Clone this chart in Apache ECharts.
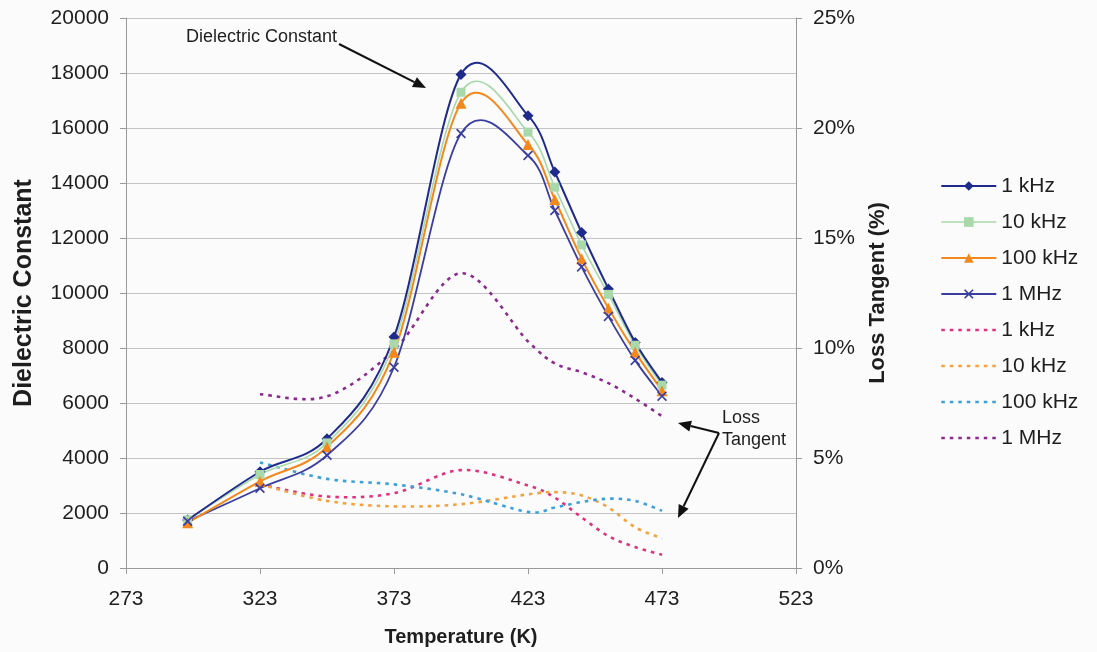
<!DOCTYPE html>
<html>
<head>
<meta charset="utf-8">
<script src="https://cdn.jsdelivr.net/npm/echarts@6/dist/echarts.min.js"></script>
<style>
  html, body { margin: 0; padding: 0; background: #fbfbfb; }
  #chart { width: 1097px; height: 652px; }
</style>
</head>
<body>
<div id="chart"></div>
<script>
// Temperatures (K) at which the samples were measured
const temps = [296, 323, 348, 373, 398, 423, 433, 443, 453, 463, 473];
const lossTemps = temps.slice(1);

// Dielectric constant per frequency
const dc1k   = [1750, 3500, 4700, 8400, 17950, 16450, 14400, 12200, 10150, 8200, 6750];
const dc10k  = [1750, 3400, 4550, 8150, 17300, 15850, 13850, 11750, 9950, 8100, 6650];
const dc100k = [1650, 3150, 4400, 7850, 16900, 15400, 13400, 11250, 9450, 7850, 6450];
const dc1M   = [1700, 2900, 4100, 7300, 15800, 15000, 13000, 10950, 9150, 7550, 6250];

// Loss tangent (%) per frequency
const lt1k   = [3.8, 3.25, 3.4, 4.45, 3.75, 3.2, 2.3, 1.45, 0.95, 0.6];
const lt10k  = [3.8, 3.05, 2.8, 2.9, 3.35, 3.45, 3.3, 2.75, 1.85, 1.35];
const lt100k = [4.8, 4.05, 3.8, 3.35, 2.55, 2.75, 3.0, 3.15, 3.05, 2.6];
const lt1M   = [7.9, 7.8, 9.9, 13.4, 10.3, 9.3, 8.9, 8.4, 7.7, 6.9];

const freqNames = ['1 kHz', '10 kHz', '100 kHz', '1 MHz'];

const FONT = 'Liberation Sans, Arial, sans-serif';
const TEXT = '#1e1e1e';
const AXIS = '#9a9a9a';
const DOTS = [3.5, 5];

const C = {
  dc1k: '#1f2b8c', dc10k: '#a9d9ab', dc100k: '#f3891d', dc1M: '#3a3ea0',
  lt1k: '#e2317c', lt10k: '#f5a13d', lt100k: '#3d9fd9', lt1M: '#8b2a8d'
};

const pairs = (xs, ys) => ys.map((v, i) => [xs[i], v]);

const crossPath = 'path://M0,1.2 L1.2,0 L5,3.8 L8.8,0 L10,1.2 L6.2,5 L10,8.8 L8.8,10 L5,6.2 L1.2,10 L0,8.8 L3.8,5 Z';

// Smooth curve through the measured points (Catmull-Rom as cubic Beziers),
// positioned through the chart's own axes.
function curve(xs, values, color, width, dash, yAxisIndex, z) {
  return {
    type: 'custom', xAxisIndex: 0, yAxisIndex: yAxisIndex, z: z,
    silent: true, clip: true,
    data: pairs(xs, values),
    encode: { x: 0, y: 1 },
    renderItem: function (params, api) {
      if (params.dataIndex !== 0) return null;
      const p = xs.map((x, i) => api.coord([x, values[i]]));
      const n = p.length;
      let d = 'M' + p[0][0] + ',' + p[0][1];
      for (let i = 0; i < n - 1; i++) {
        const p0 = p[Math.max(i - 1, 0)], p1 = p[i], p2 = p[i + 1], p3 = p[Math.min(i + 2, n - 1)];
        const c1x = p1[0] + (p2[0] - p0[0]) / 6, c1y = p1[1] + (p2[1] - p0[1]) / 6;
        const c2x = p2[0] - (p3[0] - p1[0]) / 6, c2y = p2[1] - (p3[1] - p1[1]) / 6;
        d += ' C' + c1x + ',' + c1y + ' ' + c2x + ',' + c2y + ' ' + p2[0] + ',' + p2[1];
      }
      return {
        type: 'path', shape: { pathData: d },
        style: { fill: 'none', stroke: color, lineWidth: width, lineDash: dash, lineCap: 'butt' }
      };
    }
  };
}

// Point markers (and legend entry) for a dielectric-constant series
function dcMarkers(name, values, color, symbol, size) {
  return {
    name: name, type: 'line', yAxisIndex: 0,
    data: pairs(temps, values),
    symbol: symbol, symbolSize: size,
    lineStyle: { width: 0 },
    itemStyle: { color: color },
    z: 5
  };
}

// Legend entry holder for a loss-tangent series
function lossHolder(name, values, color) {
  return {
    name: name + ' ', type: 'line', yAxisIndex: 1,
    data: pairs(lossTemps, values),
    symbol: 'none',
    lineStyle: { width: 0, type: DOTS },
    itemStyle: { color: color },
    z: 1
  };
}

// Arrow made of a shaft and a filled head, in pixel space
function arrow(x1, y1, x2, y2) {
  const ang = Math.atan2(y2 - y1, x2 - x1);
  const len = 13, half = 5.5;
  const bx = x2 - len * Math.cos(ang), by = y2 - len * Math.sin(ang);
  const px = -Math.sin(ang) * half, py = Math.cos(ang) * half;
  return [
    { type: 'line', shape: { x1: x1, y1: y1, x2: bx, y2: by },
      style: { stroke: '#111', lineWidth: 2 }, z: 10 },
    { type: 'polygon', shape: { points: [[x2, y2], [bx + px, by + py], [bx - px, by - py]] },
      style: { fill: '#111' }, z: 10 }
  ];
}

const dcLegend = (name, color, w) => ({ name: name, lineStyle: { color: color, width: w, type: 'solid', opacity: 1 } });
const ltLegend = (name, color) => ({ name: name + ' ', lineStyle: { color: color, width: 2.6, type: DOTS, opacity: 1 }, itemStyle: { opacity: 0 } });

const chart = echarts.init(document.getElementById('chart'), null, { renderer: 'canvas' });

const option = {
  animation: false,
  backgroundColor: '#fbfbfb',
  textStyle: { fontFamily: FONT },
  grid: { left: 126, right: 301, top: 18, bottom: 83, containLabel: false },
  xAxis: {
    type: 'value', min: 273, max: 523, interval: 50,
    name: 'Temperature (K)', nameLocation: 'middle', nameGap: 59,
    nameTextStyle: { fontFamily: FONT, fontSize: 20, fontWeight: 'bold', color: TEXT },
    axisLine: { show: true, lineStyle: { color: AXIS, width: 1 } },
    axisTick: { show: true, inside: false, length: 6, lineStyle: { color: AXIS } },
    axisLabel: { fontFamily: FONT, fontSize: 21, color: TEXT, margin: 21 },
    splitLine: { show: false }
  },
  yAxis: [
    {
      type: 'value', min: 0, max: 20000, interval: 2000, position: 'left',
      name: 'Dielectric Constant', nameLocation: 'middle', nameGap: 89,
      nameTextStyle: { fontFamily: FONT, fontSize: 25, fontWeight: 'bold', color: TEXT },
      axisLine: { show: true, lineStyle: { color: AXIS, width: 1 } },
      axisTick: { show: true, inside: false, length: 6, lineStyle: { color: AXIS } },
      axisLabel: { fontFamily: FONT, fontSize: 21, color: TEXT, margin: 17, formatter: (v) => String(v) },
      splitLine: { show: true, lineStyle: { color: '#c4c4c4', width: 1 } }
    },
    {
      type: 'value', min: 0, max: 25, interval: 5, position: 'right',
      name: 'Loss Tangent (%)', nameLocation: 'middle', nameGap: 71, nameRotate: 90,
      nameTextStyle: { fontFamily: FONT, fontSize: 22, fontWeight: 'bold', color: TEXT },
      axisLine: { show: true, lineStyle: { color: AXIS, width: 1 } },
      axisTick: { show: true, inside: false, length: 6, lineStyle: { color: AXIS } },
      axisLabel: { fontFamily: FONT, fontSize: 21, color: TEXT, margin: 17, formatter: '{value}%' },
      splitLine: { show: false }
    }
  ],
  legend: {
    orient: 'vertical', left: 935, top: 170,
    itemWidth: 55, itemHeight: 12, itemGap: 14,
    formatter: (name) => name.trim(),
    textStyle: { fontFamily: FONT, fontSize: 21, color: TEXT, lineHeight: 22 },
    data: [
      dcLegend(freqNames[0], C.dc1k, 2),
      dcLegend(freqNames[1], C.dc10k, 1.6),
      dcLegend(freqNames[2], C.dc100k, 2),
      dcLegend(freqNames[3], C.dc1M, 1.8),
      ltLegend(freqNames[0], C.lt1k),
      ltLegend(freqNames[1], C.lt10k),
      ltLegend(freqNames[2], C.lt100k),
      ltLegend(freqNames[3], C.lt1M)
    ]
  },
  series: [
    dcMarkers(freqNames[0], dc1k, C.dc1k, 'diamond', 11),
    dcMarkers(freqNames[1], dc10k, C.dc10k, 'rect', 9),
    dcMarkers(freqNames[2], dc100k, C.dc100k, 'triangle', 11),
    dcMarkers(freqNames[3], dc1M, C.dc1M, crossPath, 10),
    lossHolder(freqNames[0], lt1k, C.lt1k),
    lossHolder(freqNames[1], lt10k, C.lt10k),
    lossHolder(freqNames[2], lt100k, C.lt100k),
    lossHolder(freqNames[3], lt1M, C.lt1M),
    curve(lossTemps, lt1k, C.lt1k, 2.6, DOTS, 1, 2),
    curve(lossTemps, lt10k, C.lt10k, 2.6, DOTS, 1, 2),
    curve(lossTemps, lt100k, C.lt100k, 2.6, DOTS, 1, 2),
    curve(lossTemps, lt1M, C.lt1M, 2.6, DOTS, 1, 2),
    curve(temps, dc1M, C.dc1M, 1.8, null, 0, 3),
    curve(temps, dc100k, C.dc100k, 2, null, 0, 3),
    curve(temps, dc10k, C.dc10k, 1.6, null, 0, 3),
    curve(temps, dc1k, C.dc1k, 2, null, 0, 3)
  ],
  graphic: [
    { type: 'text', left: 186, top: 28, z: 10,
      style: { text: 'Dielectric Constant', fontFamily: FONT, fontSize: 18, fill: TEXT } },
    ...arrow(339, 44, 426, 88),
    { type: 'text', left: 722, top: 407, z: 10,
      style: { text: 'Loss\nTangent', fontFamily: FONT, fontSize: 18, lineHeight: 22, fill: TEXT } },
    ...arrow(719, 433, 678, 423),
    ...arrow(719, 433, 678, 518)
  ]
};

chart.setOption(option);
</script>
</body>
</html>
